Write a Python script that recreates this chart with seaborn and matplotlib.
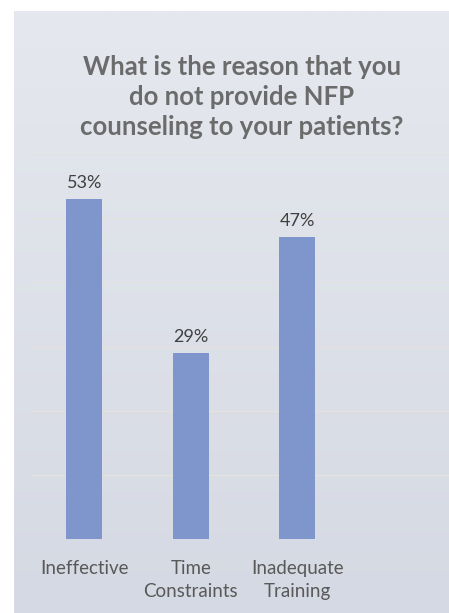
import numpy as np
import matplotlib
matplotlib.use("Agg")
import matplotlib.pyplot as plt
import seaborn as sns

sns.set_theme(style="white")
plt.rcParams['font.family'] = ['Lato', 'DejaVu Sans']

# data
reasons = ["Ineffective", "Time\nConstraints", "Inadequate\nTraining"]
percents = [53, 29, 47]
labels = ["53%", "29%", "47%"]

W, H = 449, 613
fig = plt.figure(figsize=(W / 100, H / 100), dpi=100, facecolor="white")

# light gradient panel behind the chart
bg = fig.add_axes([14 / W, 0, 1 - 14 / W, 1 - 11 / H])
top_col = np.array([0xE5, 0xE8, 0xEE]) / 255
bot_col = np.array([0xD5, 0xD9, 0xE3]) / 255
t = np.linspace(0, 1, 256)[:, None]
grad = (top_col * (1 - t) + bot_col * t)[:, None, :]
bg.imshow(grad, aspect="auto", extent=[0, 1, 0, 1])
bg.set_axis_off()

# main plot area
ax = fig.add_axes([31 / W, 1 - 539 / H, 1 - 31 / W, (539 - 154) / H])
ax.patch.set_alpha(0)
sns.barplot(x=reasons, y=percents, color="#7F96CC", saturation=1, width=0.34,
            linewidth=0, ax=ax)

ax.set_ylim(0, 60)
ax.set_xlim(-0.5, (W - 31) / 106.5 - 0.5)
ax.set_yticks(np.arange(0, 61, 10))
ax.yaxis.grid(True, color="#E4E2DF", linewidth=1)
ax.set_axisbelow(True)
ax.set_yticklabels([])
ax.tick_params(axis="y", length=0)
ax.tick_params(axis="x", length=0, pad=15, labelsize=13.5, labelcolor="#595959")
for lab in ax.get_xticklabels():
    lab.set_linespacing(1.45)
for s in ax.spines.values():
    s.set_visible(False)
ax.set_xlabel("")
ax.set_ylabel("")

ax.bar_label(ax.containers[0], labels=labels, padding=6, fontsize=13, color="#404040")

fig.text(242 / W, 1 - 97 / H,
         "What is the reason that you\ndo not provide NFP\ncounseling to your patients?",
         ha="center", va="center", fontsize=18.5, fontweight="bold",
         color="#6B6B6B", linespacing=1.3)

fig.savefig("out.png", dpi=100)
